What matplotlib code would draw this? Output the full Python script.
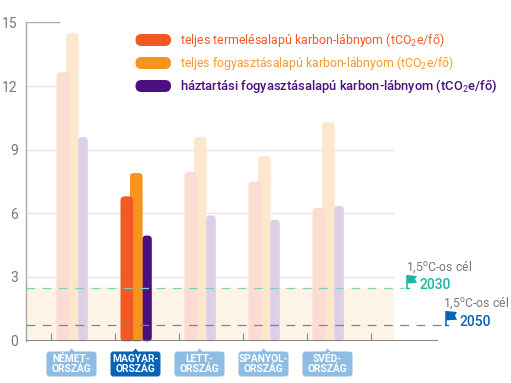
"""Carbon footprint per capita by country, with 1.5C target lines."""
import matplotlib

matplotlib.use("Agg")
import matplotlib.pyplot as plt
from matplotlib.patches import FancyBboxPatch, Polygon

plt.rcParams["font.family"] = ["Roboto", "DejaVu Sans"]
plt.rcParams["mathtext.fontset"] = "custom"
plt.rcParams["mathtext.rm"] = "Roboto"
plt.rcParams["mathtext.default"] = "rm"

countries = ["NÉMET-\nORSZÁG", "MAGYAR-\nORSZÁG", "LETT-\nORSZÁG", "SPANYOL-\nORSZÁG", "SVÉD-\nORSZÁG"]
production = [12.65, 6.8, 7.95, 7.5, 6.25]
consumption = [14.5, 7.9, 9.6, 8.7, 10.3]
household = [9.6, 4.95, 5.9, 5.7, 6.35]
highlight = 1

y_ticks = [0, 3, 6, 9, 12, 15]
target_2030 = 2.46
target_2050 = 0.75

legend_labels = [
    "teljes termelésalapú karbon-lábnyom (tCO$_2$e/fő)",
    "teljes fogyasztásalapú karbon-lábnyom (tCO$_2$e/fő)",
    "háztartási fogyasztásalapú karbon-lábnyom (tCO$_2$e/fő)",
]

RED = "#f15a22"
ORANGE = "#f7941d"
PURPLE = "#4b0f7f"
RED_PALE = "#fbdcd2"
ORANGE_PALE = "#fde7cc"
PURPLE_PALE = "#ddd0e6"
GREY = "#777777"
TEAL = "#1fb5a3"
BLUE = "#0a63b4"
BLUE_PALE = "#8fbce3"

W, H = 511, 383
X0, X1 = 26, 445
Y0, Y15 = 340.5, 22.5
GROUP_PX = 64.0
CENTER0_PX = 72.0

fig = plt.figure(figsize=(W / 100, H / 100), dpi=100)
ax = fig.add_axes([X0 / W, 1 - Y0 / H, (X1 - X0) / W, (Y0 - Y15) / H])
ax.set_xlim((X0 - CENTER0_PX) / GROUP_PX, (X1 - CENTER0_PX) / GROUP_PX)
ax.set_ylim(0, 15)
for name in ["top", "right", "bottom"]:
    ax.spines[name].set_visible(False)
ax.spines["left"].set_color("#aaaaaa")
ax.spines["left"].set_linewidth(1.0)
ax.patch.set_alpha(0)
ax.set_xticks([])
ax.set_yticks(y_ticks)
ax.tick_params(axis="y", length=0, pad=6, labelsize=10, labelcolor=GREY)


def to_x(px):
    return (px - CENTER0_PX) / GROUP_PX


# grid and target band
left = ax.get_xlim()[0]
ax.axhspan(0, target_2030, xmin=0, xmax=(394 - X0) / (X1 - X0), color="#fdf3e6", lw=0, zorder=0)
ax.hlines([3, 6, 9], left, to_x(394), color="#e3e3e8", lw=1.0, zorder=1)
ax.hlines(12, left, to_x(60), color="#e3e3e8", lw=1.0, zorder=1)
ax.hlines(15, left, to_x(60), color="#aaaaaa", lw=1.0, zorder=1)

# bars
aspect = (15 / (Y0 - Y15)) * GROUP_PX


def rounded_bar(center_px, width_px, value, color, z):
    x = to_x(center_px - width_px / 2)
    bottom = -0.04
    patch = FancyBboxPatch(
        (x, bottom),
        width_px / GROUP_PX,
        value - bottom,
        boxstyle=f"round,pad=0,rounding_size={4 / GROUP_PX}",
        mutation_aspect=aspect,
        fc=color,
        ec="none",
        zorder=z,
        clip_on=False,
    )
    ax.add_patch(patch)


for i in range(len(countries)):
    center = CENTER0_PX + i * GROUP_PX
    on = i == highlight
    rounded_bar(center - 9.2, 12.6, production[i], RED if on else RED_PALE, 3)
    rounded_bar(center + 0.3, 12.6, consumption[i], ORANGE if on else ORANGE_PALE, 2.5 if on else 2)
    rounded_bar(center + 11.0, 9.6, household[i], PURPLE if on else PURPLE_PALE, 2)

# target lines and x axis
ax.hlines(target_2030, left, to_x(404), color="#7fcfc0", lw=0.9, linestyles=(0, (7, 6)), zorder=5, clip_on=False)
ax.hlines(target_2050, left, to_x(444), color="#4f8fd0", lw=0.9, linestyles=(0, (7, 6)), zorder=5, clip_on=False)
ax.hlines(0, left, to_x(437.7), color="#666666", lw=1.1, zorder=6)
ax.vlines([to_x(51 + 64 * k) for k in range(6)], 0, 8 / 21.2, color="#888888", lw=0.8, zorder=6)

# overlay in pixel coordinates for legend, labels and flags
ov = fig.add_axes([0, 0, 1, 1])
ov.set_xlim(0, W)
ov.set_ylim(H, 0)
ov.axis("off")
ov.patch.set_alpha(0)


def pill(x0, y0, x1, y1, r, color):
    ov.add_patch(
        FancyBboxPatch(
            (x0, y0), x1 - x0, y1 - y0,
            boxstyle=f"round,pad=0,rounding_size={r}",
            fc=color, ec="none",
        )
    )


# legend
legend_colors = [RED, ORANGE, PURPLE]
legend_text_colors = [RED, "#f39a32", PURPLE]
for label, color, text_color, y, size, weight in zip(
    legend_labels, legend_colors, legend_text_colors, [40, 63, 86], [8.95, 8.8, 9.25], ["normal", "normal", "medium"]
):
    pill(135.5, y - 6, 171, y + 6, 6, color)
    ov.text(180, y, label, color=text_color, fontsize=size, va="center", ha="left", fontweight=weight)

# country labels
for i, name in enumerate(countries):
    center = 71.5 + i * GROUP_PX
    color = BLUE if i == highlight else BLUE_PALE
    pill(center - 25, 351.5, center + 25, 376.5, 3, color)
    ov.add_patch(Polygon([(center - 3, 352), (center, 348.5), (center + 3, 352)], fc=color, ec="none"))
    ov.text(center, 364, name, color="white", fontsize=7.4, fontweight="bold", ha="center", va="center", linespacing=1.05)


# flags
def flag(x, y_top, y_bottom, size, color):
    ov.plot([x, x], [y_top, y_bottom], color=color, lw=1.1, solid_capstyle="butt")
    ov.plot([x - 1.5, x + 1.5], [y_bottom, y_bottom], color=color, lw=0.9)
    ov.add_patch(
        Polygon(
            [(x, y_top), (x + size, y_top + 1), (x + size - 2, y_top + size * 0.4), (x + size, y_top + size * 0.8), (x, y_top + size * 0.85)],
            fc=color, ec="none",
        )
    )


flag(407, 275, 288, 10, TEAL)
flag(446, 311, 325, 11, BLUE)
ov.text(406, 267, "1,5$^{o}$C-os cél", color=GREY, fontsize=8.8, va="center", ha="left")
ov.text(443, 303, "1,5$^{o}$C-os cél", color=GREY, fontsize=8.8, va="center", ha="left")
ov.text(420, 285, "2030", color=TEAL, fontsize=10, fontweight="medium", va="center", ha="left")
ov.text(459, 322, "2050", color=BLUE, fontsize=10, fontweight="medium", va="center", ha="left")

fig.savefig("out.png", dpi=100)
